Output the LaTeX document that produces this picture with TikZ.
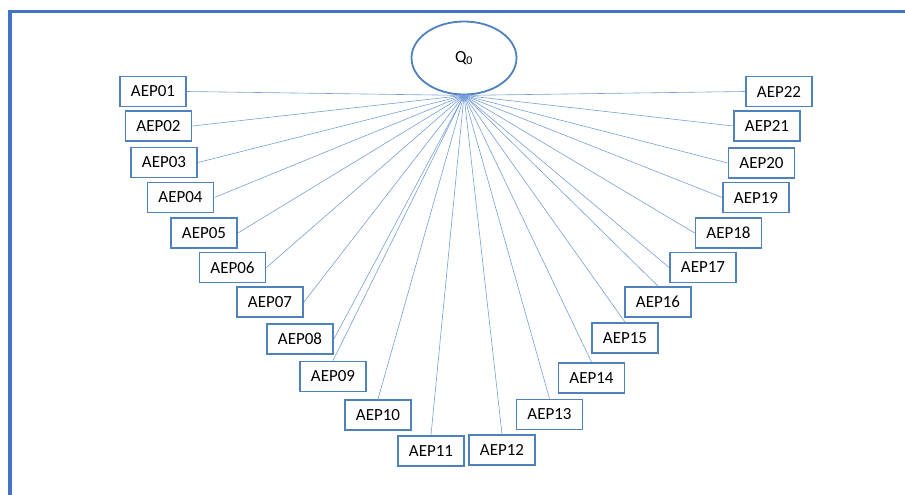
\documentclass[tikz,border=0pt]{standalone}
\usepackage{fontspec}
\setmainfont{Carlito}
\usetikzlibrary{arrows.meta}
\usetikzlibrary{shapes.geometric}
\tikzstyle{canvas} = [x = 1pt, y = -1pt]
\definecolor{boxColor}{RGB}{79,129,189}
\definecolor{lineColor}{RGB}{120,158,214}
\definecolor{frameColor}{RGB}{68,114,196}
\tikzstyle{aepStyle} = [draw=boxColor, line width=1.8pt, fill=white, minimum width=66pt, minimum height=30pt, inner sep=0pt, font=\fontsize{17}{19}\selectfont]
\tikzstyle{rootStyle} = [ellipse, draw=boxColor, line width=1.8pt, fill=white, minimum width=105pt, minimum height=73pt, inner sep=0pt, font=\fontsize{17}{19}\selectfont]
\tikzstyle{linkLine} = [draw=lineColor, line width=0.6pt, -{Stealth[length=4pt, width=3.5pt]}]
\tikzstyle{frameLine} = [draw=frameColor]
\newcommand{\aepNode}[3]{\node [aepStyle] (aep#1) at (#2,#3) {AEP#1};}

\begin{document}
\begin{tikzpicture}[canvas]
  \useasboundingbox (0,0) rectangle (905,495);

  % frame
  \draw [frameLine, line width = 3pt] (8,12) -- (905,12);
  \draw [frameLine, line width = 4pt] (10,10.5) -- (10,495);

  \node [rootStyle] (q0) at (464,58) {Q\textsubscript{0}};

  % left branch
  \aepNode{01}{153}{91.5}
  \aepNode{02}{158.5}{126}
  \aepNode{03}{164}{162.5}
  \aepNode{04}{180.5}{197.5}
  \aepNode{05}{204}{233}
  \aepNode{06}{232.5}{267.5}
  \aepNode{07}{270}{302}
  \aepNode{08}{300}{339}
  \aepNode{09}{333}{376.5}
  \aepNode{10}{378}{415}
  \aepNode{11}{431}{451}

  % right branch
  \aepNode{12}{502}{450}
  \aepNode{13}{549.5}{414.5}
  \aepNode{14}{591.5}{378}
  \aepNode{15}{625}{338}
  \aepNode{16}{658}{302}
  \aepNode{17}{703}{267.5}
  \aepNode{18}{728.5}{233}
  \aepNode{19}{756}{197.5}
  \aepNode{20}{761.5}{163}
  \aepNode{21}{767}{126}
  \aepNode{22}{779}{91.5}

  \foreach \n/\side in {01/east, 02/east, 03/east, 04/east, 05/east, 06/east, 07/east, 08/east, 09/north, 10/north, 11/north,
                        12/north, 13/north, 14/north, 15/north, 16/north, 17/west, 18/west, 19/west, 20/west, 21/west, 22/west} {
    \draw [linkLine] (aep\n.\side) -- (q0.south);
  }
\end{tikzpicture}
\end{document}
